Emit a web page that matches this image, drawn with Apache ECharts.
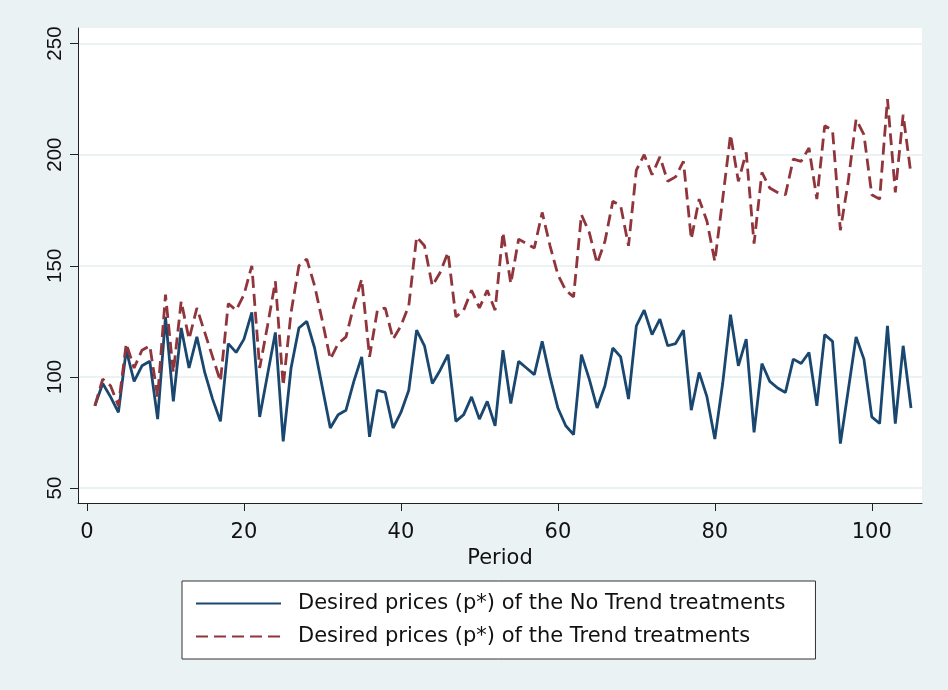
<!DOCTYPE html>
<html>
<head>
<meta charset="utf-8">
<script src="https://cdn.jsdelivr.net/npm/echarts@6/dist/echarts.min.js"></script>
<style>
  html, body { margin: 0; padding: 0; background: #eaf2f3; }
  #chart { width: 948px; height: 690px; }
</style>
</head>
<body>
<div id="chart"></div>
<script>
const periods = Array.from({length: 105}, (_, i) => i + 1);

const noTrend = [
  87, 97, 91, 84, 112, 98, 105, 107, 81, 127,
  89, 122, 104, 118, 102, 90, 80, 115, 111, 117,
  129, 82, 101, 120, 71, 104, 122, 125, 113, 95,
  77, 83, 85, 98, 109, 73, 94, 93, 77, 84,
  94, 121, 114, 97, 103, 110, 80, 83, 91, 81,
  89, 78, 112, 88, 107, 104, 101, 116, 100, 86,
  78, 74, 110, 99, 86, 96, 113, 109, 90, 123,
  130, 119, 126, 114, 115, 121, 85, 102, 91, 72,
  97, 128, 105, 117, 75, 106, 98, 95, 93, 108,
  106, 111, 87, 119, 116, 70, 94, 118, 108, 82,
  79, 123, 79, 114, 86
];

const trend = [
  87, 99, 96, 87, 115, 104, 112, 114, 91, 137,
  102, 134, 117, 131, 120, 109, 98, 133, 130, 137,
  150, 104, 123, 143, 96, 129, 150, 153, 141, 125,
  108, 115, 118, 132, 144, 109, 130, 131, 117, 123,
  132, 163, 159, 141, 147, 156, 127, 130, 139, 131,
  139, 130, 165, 142, 162, 160, 158, 174, 159, 146,
  139, 136, 173, 165, 151, 161, 179, 177, 159, 193,
  200, 191, 199, 188, 190, 197, 162, 180, 170, 152,
  180, 209, 188, 201, 160, 192, 185, 183, 182, 198,
  197, 203, 180, 213, 211, 166, 188, 216, 209, 182,
  180, 225, 183, 218, 191
];

const xTicks = [0, 20, 40, 60, 80, 100];
const yTicks = [50, 100, 150, 200, 250];

const seriesNames = [
  'Desired prices (p*) of the No Trend treatments',
  'Desired prices (p*) of the Trend treatments'
];

const wideFont = 'DejaVu Sans, Verdana, sans-serif';
const narrowFont = 'Liberation Sans, Arial, Helvetica, sans-serif';
const chart = echarts.init(document.getElementById('chart'), null, {renderer: 'canvas'});

chart.setOption({
  backgroundColor: '#eaf2f3',
  animation: false,
  grid: {
    left: 78, top: 28, right: 26, bottom: 187,
    show: true, backgroundColor: '#ffffff', borderWidth: 0
  },
  xAxis: {
    type: 'value',
    min: -1.15, max: 106.4,
    name: 'Period',
    nameLocation: 'middle',
    nameGap: 40,
    nameTextStyle: { fontFamily: wideFont, fontSize: 21, color: '#111' },
    axisLine: { show: true, onZero: false, lineStyle: { color: '#222', width: 1 } },
    axisTick: { show: true, length: 8, customValues: xTicks, lineStyle: { color: '#222' } },
    axisLabel: { customValues: xTicks, margin: 19, fontFamily: wideFont, fontSize: 21, color: '#111' },
    splitLine: { show: false }
  },
  yAxis: {
    type: 'value',
    min: 43.25, max: 257,
    axisLine: { show: true, onZero: false, lineStyle: { color: '#222', width: 1 } },
    axisTick: { show: true, length: 8, customValues: yTicks, lineStyle: { color: '#222' } },
    axisLabel: { customValues: yTicks, rotate: 90, margin: 12, fontFamily: narrowFont, fontSize: 20.5, color: '#111' },
    splitLine: { show: true, lineStyle: { color: '#eaf2f3', width: 2 } }
  },
  legend: {
    orient: 'vertical',
    left: 182, top: 581,
    backgroundColor: '#ffffff',
    borderColor: '#333',
    borderWidth: 1,
    borderRadius: 0,
    padding: [12, 30, 12, 13],
    itemWidth: 85,
    itemHeight: 20,
    itemGap: 12,
    itemStyle: { opacity: 0 },
    textStyle: { fontFamily: wideFont, fontSize: 21, color: '#111', padding: [0, 0, 0, 12] },
    data: seriesNames
  },
  series: [
    {
      name: seriesNames[0],
      type: 'line',
      data: periods.map((p, i) => [p, noTrend[i]]),
      symbol: 'none',
      lineStyle: { color: '#1a476f', width: 2.8 },
      itemStyle: { color: '#1a476f' }
    },
    {
      name: seriesNames[1],
      type: 'line',
      data: periods.map((p, i) => [p, trend[i]]),
      symbol: 'none',
      lineStyle: { color: '#90353b', width: 2.8, type: [12, 6] },
      itemStyle: { color: '#90353b' }
    }
  ]
});
</script>
</body>
</html>
